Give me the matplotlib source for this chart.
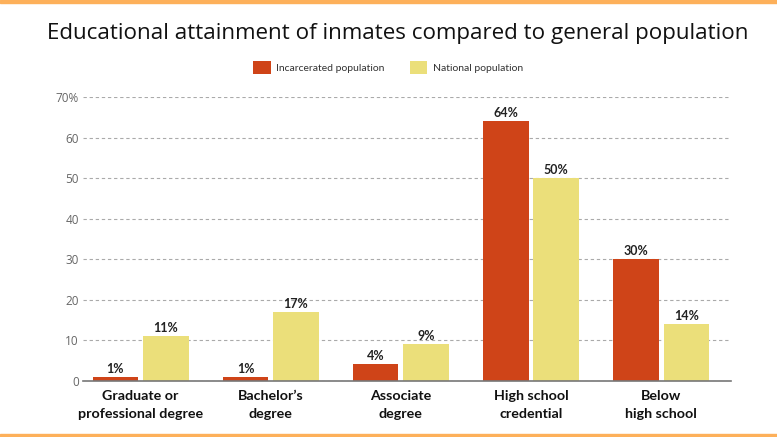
import matplotlib
matplotlib.use("Agg")
import matplotlib.pyplot as plt
import numpy as np
from matplotlib.patches import Patch, Rectangle

categories = ["Graduate or\nprofessional degree", "Bachelor\u2019s\ndegree", "Associate\ndegree",
              "High school\ncredential", "Below\nhigh school"]
incarcerated = [1, 1, 4, 64, 30]
national = [11, 17, 9, 50, 14]
series_names = ["Incarcerated population", "National population"]
yticks = [0, 10, 20, 30, 40, 50, 60, 70]
ytick_labels = ["0", "10", "20", "30", "40", "50", "60", "70%"]
title = "Educational attainment of inmates compared to general population"

RED = "#CF4418"
YEL = "#EBDF7A"
ORANGE = "#FDB05A"

W, H = 777, 437
fig = plt.figure(figsize=(W / 100, H / 100), dpi=100)
fig.patch.set_facecolor("white")

# borders
fig.add_artist(Rectangle((0, 1 - 3 / H), 1, 3 / H, transform=fig.transFigure, color=ORANGE, zorder=0))
fig.add_artist(Rectangle((0, 0), 1, 3.5 / H, transform=fig.transFigure, color=ORANGE, zorder=0))

ax = fig.add_axes([83 / W, (H - 380.7) / H, (731 - 83) / W, (380.7 - 97) / H])
x = np.arange(len(categories))
bw = 0.35
off = 0.194
b1 = ax.bar(x - off, incarcerated, bw, color=RED, zorder=3)
b2 = ax.bar(x + off, national, bw, color=YEL, zorder=3)

for bars, vals in ((b1, incarcerated), (b2, national)):
    for b, v in zip(bars, vals):
        ax.annotate(f"{v}%", (b.get_x() + b.get_width() / 2, v), xytext=(0, 1.5),
                    textcoords="offset points", ha="center", va="bottom",
                    fontsize=9, fontweight="bold", color="#222222", family="Lato")

ax.set_xlim(-0.443, 4.537)
ax.set_ylim(0, 70)
ax.set_yticks(yticks)
ax.set_yticklabels(ytick_labels, fontsize=8.5, color="#666666", family="Open Sans")
ax.tick_params(axis="y", length=0, pad=3)
ax.set_xticks(x)
ax.set_xticklabels(categories, fontsize=10.3, fontweight="bold", color="#111111",
                   family="Lato", linespacing=1.6)
ax.tick_params(axis="x", length=0, pad=7)
for s in ("top", "right", "left"):
    ax.spines[s].set_visible(False)
ax.spines["bottom"].set_color("#777777")
ax.spines["bottom"].set_linewidth(1.2)
ax.spines["bottom"].set_zorder(4)
ax.yaxis.grid(True, linestyle=(0, (3, 2.5)), color="#aaaaaa", linewidth=0.8, zorder=0)
ax.set_axisbelow(True)

fig.text(398 / W, 1 - 33 / H, title, ha="center", va="center", fontsize=16.1,
         family="Open Sans", color="#111111")

handles = [Patch(facecolor=RED, edgecolor="none"), Patch(facecolor=YEL, edgecolor="none")]
fig.legend(handles, series_names, loc="center", bbox_to_anchor=(388 / W, 1 - 67.5 / H),
           ncol=2, frameon=False, handlelength=1.65, handleheight=1.55,
           handletextpad=0.5, columnspacing=2.5, prop={"family": "Lato", "size": 7.5},
           labelcolor="#333333")

fig.savefig("out.png", dpi=100, facecolor="white")
